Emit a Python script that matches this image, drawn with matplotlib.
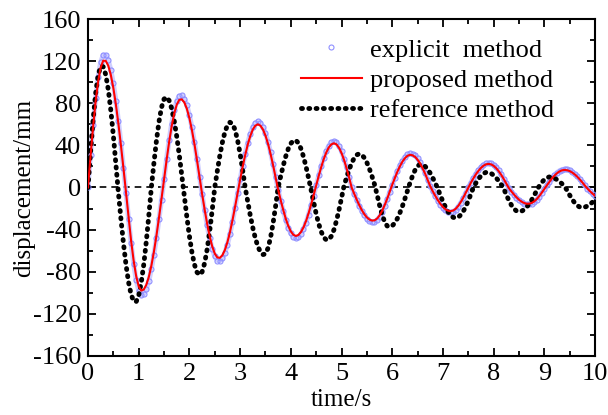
import numpy as np
import matplotlib
matplotlib.use("Agg")
import matplotlib.pyplot as plt
from matplotlib.ticker import MultipleLocator

# displacement (mm) sampled every 0.05 s from 0 to 10 s
explicit = [
    0.0, 30.7, 59.6, 85.0, 105.1, 119.0, 125.8, 125.6, 120.9, 111.8,
    98.9, 82.5, 63.2, 41.8, 18.9, -5.0, -29.7, -52.7, -72.4, -87.9,
    -98.0, -102.3, -101.3, -96.7, -88.7, -77.6, -63.8, -47.9, -30.2, -11.5,
    7.8, 27.2, 45.0, 60.6, 73.3, 82.1, 86.9, 87.5, 84.4, 78.2,
    68.9, 57.0, 42.9, 27.2, 10.3, -6.3, -21.6, -35.9, -48.4, -58.4,
    -65.5, -69.4, -69.8, -67.3, -62.0, -54.2, -44.3, -32.5, -19.4, -5.6,
    7.7, 20.4, 32.1, 42.4, 51.0, 57.5, 61.3, 62.7, 61.4, 57.7,
    51.6, 43.5, 33.5, 22.3, 10.0, -2.1, -12.4, -22.2, -30.9, -38.1,
    -43.6, -46.9, -48.1, -47.1, -44.2, -39.6, -33.3, -25.7, -17.0, -7.7,
    1.9, 11.4, 20.3, 28.2, 34.8, 39.8, 42.8, 43.9, 42.8, 39.5,
    34.3, 27.4, 19.0, 9.8, 0.0, -6.2, -12.0, -17.6, -22.4, -26.5,
    -29.7, -31.8, -32.8, -32.6, -30.9, -27.8, -23.3, -17.7, -11.3, -4.3,
    2.7, 9.2, 15.5, 20.9, 25.6, 29.1, 31.5, 32.4, 32.0, 30.4,
    27.6, 23.8, 19.0, 13.6, 7.5, 1.3, -3.8, -8.4, -12.5, -16.3,
    -19.3, -21.6, -23.0, -23.5, -22.9, -21.2, -18.4, -14.6, -10.2, -5.2,
    0.0, 4.6, 9.0, 13.1, 16.5, 19.4, 21.6, 23.0, 23.4, 23.0,
    21.5, 19.2, 16.2, 12.5, 8.4, 3.8, -0.6, -3.9, -6.9, -9.7,
    -12.1, -14.0, -15.4, -16.1, -16.1, -15.4, -13.8, -11.5, -8.6, -5.1,
    -1.5, 2.2, 5.6, 9.0, 11.8, 14.2, 16.0, 17.0, 17.5, 17.1,
    16.3, 14.8, 13.0, 10.7, 7.9, 5.0, 1.9, -1.0, -3.7, -6.1,
    -8.3,
]

proposed = [
    0.0, 29.4, 57.0, 81.3, 100.6, 113.9, 120.4, 120.2, 115.7, 107.0,
    94.6, 78.9, 60.5, 40.0, 18.1, -4.8, -28.4, -50.4, -69.3, -84.1,
    -93.8, -97.9, -96.9, -92.5, -84.9, -74.3, -61.1, -45.8, -28.9, -11.0,
    7.5, 26.0, 43.1, 58.0, 70.1, 78.6, 83.2, 83.7, 80.8, 74.8,
    65.9, 54.5, 41.1, 26.0, 9.9, -6.0, -20.7, -34.4, -46.3, -55.9,
    -62.7, -66.4, -66.8, -64.4, -59.3, -51.9, -42.4, -31.1, -18.6, -5.4,
    7.4, 19.5, 30.7, 40.6, 48.8, 55.0, 58.7, 60.0, 58.8, 55.2,
    49.4, 41.6, 32.1, 21.3, 9.6, -2.0, -11.9, -21.2, -29.6, -36.5,
    -41.7, -44.9, -46.0, -45.1, -42.3, -37.9, -31.9, -24.6, -16.3, -7.4,
    1.8, 10.9, 19.4, 27.0, 33.3, 38.1, 41.0, 42.0, 41.0, 37.8,
    32.8, 26.2, 18.2, 9.4, 0.0, -5.9, -11.5, -16.8, -21.4, -25.4,
    -28.4, -30.4, -31.4, -31.2, -29.6, -26.6, -22.3, -16.9, -10.8, -4.1,
    2.6, 8.8, 14.8, 20.0, 24.5, 27.8, 30.1, 31.0, 30.6, 29.1,
    26.4, 22.8, 18.2, 13.0, 7.2, 1.2, -3.6, -8.0, -12.0, -15.6,
    -18.5, -20.7, -22.0, -22.5, -21.9, -20.3, -17.6, -14.0, -9.8, -5.0,
    0.0, 4.4, 8.6, 12.5, 15.8, 18.6, 20.7, 22.0, 22.4, 22.0,
    20.6, 18.4, 15.5, 12.0, 8.0, 3.6, -0.6, -3.7, -6.6, -9.3,
    -11.6, -13.4, -14.7, -15.4, -15.4, -14.7, -13.2, -11.0, -8.2, -4.9,
    -1.4, 2.1, 5.4, 8.6, 11.3, 13.6, 15.3, 16.3, 16.7, 16.4,
    15.6, 14.2, 12.4, 10.2, 7.6, 4.8, 1.8, -1.0, -3.5, -5.8,
    -7.9,
]

reference = [
    0.0, 33.3, 63.8, 88.9, 106.5, 115.2, 114.7, 107.2, 93.1, 73.5,
    49.6, 22.6, -5.0, -29.8, -53.1, -73.4, -89.9, -101.6, -107.9, -108.5,
    -102.6, -90.5, -73.2, -51.3, -26.5, 0.0, 23.0, 44.4, 62.4, 76.0,
    84.0, 85.9, 82.6, 75.1, 63.5, 48.6, 31.1, 11.9, -8.1, -28.0,
    -46.1, -61.5, -73.2, -80.5, -83.0, -80.2, -71.9, -58.7, -41.5, -21.5,
    0.0, 15.5, 30.1, 42.7, 52.6, 59.1, 61.9, 60.6, 54.8, 45.0,
    32.0, 16.6, 0.0, -13.5, -26.4, -38.1, -48.1, -55.9, -61.2, -63.7,
    -63.1, -57.7, -47.7, -34.0, -17.8, 0.0, 10.6, 20.6, 29.5, 36.7,
    41.8, 44.5, 44.8, 42.2, 36.9, 29.3, 19.8, 9.1, -2.4, -14.1,
    -25.0, -34.5, -42.0, -47.3, -49.8, -49.4, -46.2, -40.2, -31.7, -21.4,
    -9.8, 1.6, 9.6, 16.9, 23.2, 28.0, 31.0, 32.0, 31.0, 28.2,
    23.7, 17.8, 10.8, 3.1, -6.5, -16.8, -25.7, -32.5, -36.5, -37.5,
    -36.4, -33.7, -29.6, -24.2, -17.9, -10.7, -3.1, 4.3, 11.0, 16.5,
    20.3, 22.0, 21.6, 20.0, 17.3, 13.6, 9.1, 4.2, -1.3, -7.5,
    -13.4, -18.6, -23.0, -26.3, -28.3, -29.0, -28.3, -26.1, -22.7, -18.1,
    -12.6, -6.5, 0.0, 4.2, 8.0, 11.1, 13.3, 14.4, 14.3, 13.4,
    11.6, 9.2, 6.2, 2.8, -1.2, -6.9, -12.2, -16.7, -20.1, -22.3,
    -23.0, -22.5, -21.1, -18.7, -15.6, -11.8, -7.5, -2.9, 1.4, 4.8,
    7.6, 9.4, 10.0, 9.7, 8.8, 7.4, 5.6, 3.4, 1.0, -2.8,
    -7.3, -11.3, -14.7, -17.2, -18.6, -19.0, -18.6, -17.6, -16.0, -13.9,
    -11.4,
]

t_end = 10.0
labels = ["explicit  method", "proposed method", "reference method"]

plt.rcParams['font.family'] = ['Liberation Serif', 'DejaVu Serif']
plt.rcParams['axes.unicode_minus'] = False


def plot_displacement():
    time = np.linspace(0, t_end, len(proposed))

    fig = plt.figure(figsize=(6.08, 4.15), dpi=100)
    ax = fig.add_axes([0.1447, 0.1422, 0.834, 0.812])

    ax.axhline(0, color='black', linestyle=(0, (4, 3)), linewidth=1.2, zorder=1)

    # light band under the explicit markers
    ax.plot(time, explicit, color='#c4c4ff', linewidth=3.6, alpha=0.8,
            solid_capstyle='round', zorder=2)
    ax.plot(time, explicit, linestyle='none', marker='o', markersize=3.6,
            markerfacecolor='none', markeredgecolor='#8f8fff',
            markeredgewidth=0.8, label=labels[0], zorder=3)
    ax.plot(time, reference, color='black', linewidth=3.5,
            linestyle=(0, (0.2, 1.3)), dash_capstyle='round',
            label=labels[2], zorder=4)
    ax.plot(time, proposed, color='red', linewidth=1.5,
            label=labels[1], zorder=5)

    ax.set_xlim(0, 10)
    ax.set_ylim(-160, 160)
    ax.xaxis.set_major_locator(MultipleLocator(1))
    ax.xaxis.set_minor_locator(MultipleLocator(0.5))
    ax.yaxis.set_major_locator(MultipleLocator(40))
    ax.yaxis.set_minor_locator(MultipleLocator(20))
    ax.tick_params(which='both', direction='in', top=True, right=True,
                   width=1.3, labelsize=19)
    ax.tick_params(which='major', length=6, pad=5)
    ax.tick_params(which='minor', length=3.5)
    for spine in ax.spines.values():
        spine.set_linewidth(1.5)

    ax.set_xlabel('time/s', fontsize=18, labelpad=3)
    ax.set_ylabel('displacement/mm', fontsize=18, labelpad=-2)

    handles, names = ax.get_legend_handles_labels()
    order = [names.index(n) for n in labels]
    ax.legend([handles[i] for i in order], [names[i] for i in order],
              loc='upper right', bbox_to_anchor=(0.95, 0.99), frameon=False,
              fontsize=19, handlelength=2.3, handletextpad=0.3,
              labelspacing=0.26, borderaxespad=0.2)

    fig.savefig('out.png', dpi=100)


if __name__ == "__main__":
    plot_displacement()
